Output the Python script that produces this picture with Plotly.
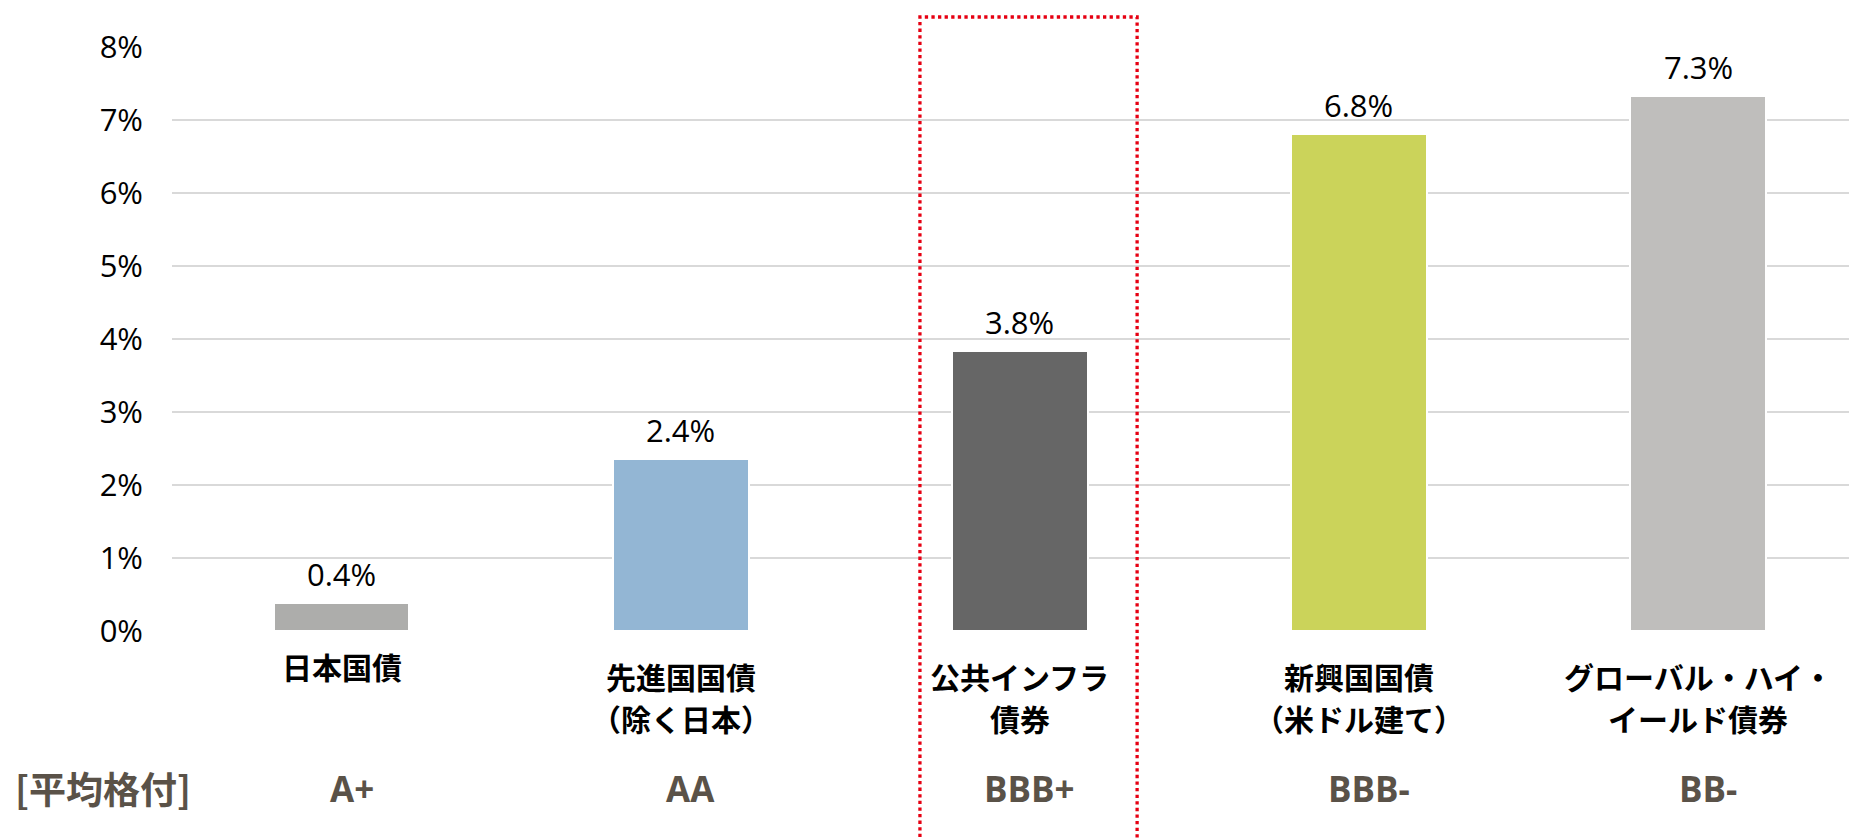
import plotly.graph_objects as go

# ---- data ----
categories = ["日本国債", "先進国国債<br>（除く日本）", "公共インフラ<br>債券",
              "新興国国債<br>（米ドル建て）", "グローバル・ハイ・<br>イールド債券"]
values = [0.38, 2.35, 3.84, 6.81, 7.33]
value_labels = ["0.4%", "2.4%", "3.8%", "6.8%", "7.3%"]
ratings = ["A+", "AA", "BBB+", "BBB-", "BB-"]
rating_header = "[平均格付]"
bar_colors = ["#ADADAB", "#93B6D4", "#666666", "#CBD35A", "#BFBEBC"]
y_ticks = [0, 1, 2, 3, 4, 5, 6, 7, 8]
y_tick_labels = [f"{t}%" for t in y_ticks]

NUM_FONT = "Open Sans"
CJK_FONT = "Noto Sans CJK JP"
RATING_COLOR = "#5A5248"

x_idx = list(range(len(categories)))

fig = go.Figure()
fig.add_trace(go.Bar(
    x=x_idx, y=values, width=0.40,
    marker=dict(color=bar_colors, line=dict(color="white", width=2)),
    hoverinfo="skip",
))

# value labels above bars
for xi, v, t in zip(x_idx, values, value_labels):
    fig.add_annotation(x=xi, y=v, xref="x", yref="y", text=t, showarrow=False,
                       yanchor="bottom", yshift=6,
                       font=dict(family=NUM_FONT, size=31, color="#000000"))

# category labels (one annotation per line) and ratings
for xi, cat, r in zip(x_idx, categories, ratings):
    lines = cat.split("<br>")
    first = -35 if len(lines) == 1 else -45
    for li, line in enumerate(lines):
        fig.add_annotation(x=xi, y=0, xref="x", yref="y", text=f"<b>{line}</b>",
                           showarrow=False, yanchor="middle", yshift=first - 42 * li,
                           font=dict(family=CJK_FONT, size=30, color="#000000"))
    fig.add_annotation(x=xi, y=0, xref="x", yref="y", text=f"<b>{r}</b>",
                       showarrow=False, yanchor="middle", yshift=-157, xshift=10,
                       font=dict(family=NUM_FONT, size=35, color=RATING_COLOR))

fig.add_annotation(x=0, y=0, xref="paper", yref="y", text=f"<b>{rating_header}</b>",
                   showarrow=False, xanchor="center", yanchor="middle",
                   xshift=-69, yshift=-157,
                   font=dict(family=CJK_FONT, size=37, color=RATING_COLOR))

# red dotted highlight box around the infrastructure bond column
fig.add_shape(type="rect", xref="paper", yref="paper",
              x0=0.446, x1=0.5755, y0=-0.40, y1=1.0514,
              line=dict(color="#E60012", width=3.3, dash="dot"),
              fillcolor="rgba(0,0,0,0)", layer="above")

fig.update_layout(
    width=1849, height=838,
    margin=dict(l=172, r=0, t=47, b=207),
    paper_bgcolor="white", plot_bgcolor="white",
    showlegend=False,
    bargap=0,
)
fig.update_xaxes(range=[-0.5, 4.445], showticklabels=False, showgrid=False,
                 zeroline=False, showline=False, ticks="", fixedrange=True)
fig.update_yaxes(range=[0, 8], tickvals=y_ticks, ticktext=y_tick_labels,
                 showgrid=True, gridcolor="#D9D9D9", gridwidth=1.5,
                 zeroline=False, showline=False, ticks="",
                 ticklabelstandoff=28,
                 tickfont=dict(family=NUM_FONT, size=31, color="#000000"),
                 fixedrange=True)

fig.write_html("out.html", config={"displayModeBar": False},
               post_script="document.body.style.margin='0';document.body.style.overflow='hidden';")
